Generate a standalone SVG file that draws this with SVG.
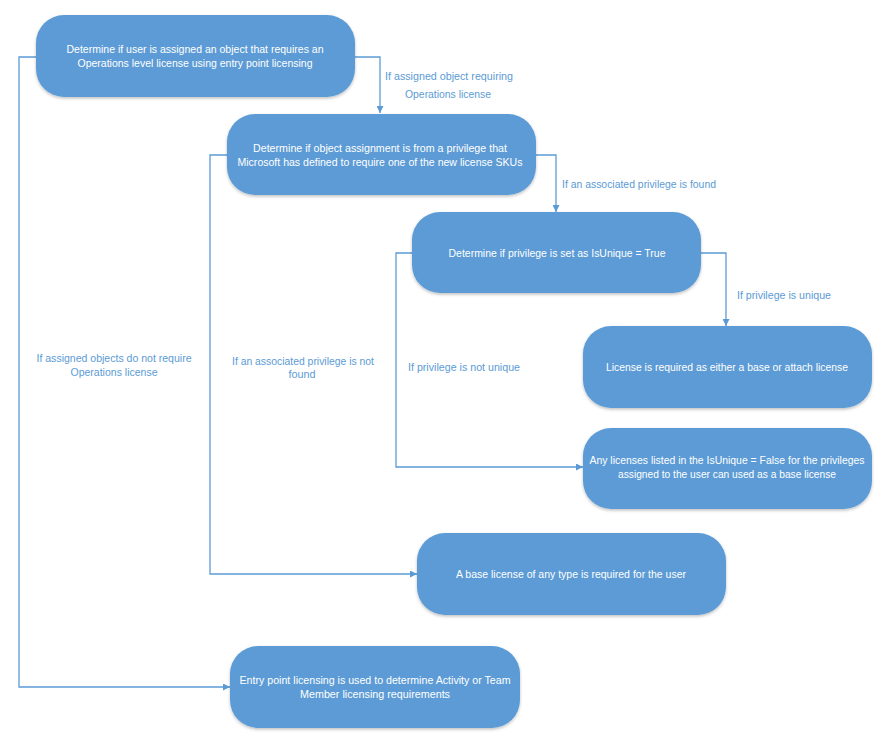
<svg xmlns="http://www.w3.org/2000/svg" width="892" height="740" viewBox="0 0 892 740">
<style>
.node rect{fill:#5b9bd5;filter:url(#sh)}
.node text{fill:#ffffff;font-family:"Liberation Sans",Arial,sans-serif;font-size:10.5px;text-anchor:middle}
.lbl{fill:#5b9bd5;font-family:"Liberation Sans",Arial,sans-serif;font-size:10.5px;text-anchor:middle}
.conn path{fill:none;stroke:#5b9bd5;stroke-width:1.3;marker-end:url(#ah)}
</style>
<defs>
<marker id="ah" viewBox="0 0 10 10" refX="10" refY="5" markerWidth="7" markerHeight="7" markerUnits="userSpaceOnUse" orient="auto">
<path d="M0,0 L10,5 L0,10 z" fill="#5b9bd5"/>
</marker>
<filter id="sh" x="-10%" y="-10%" width="120%" height="130%">
<feDropShadow dx="0" dy="1.5" stdDeviation="1.5" flood-color="#000" flood-opacity="0.25"/>
</filter>
</defs>
<rect width="892" height="740" fill="#ffffff"/>
<g class="conn">
<path d="M36,57 H19 V687 H230"/>
<path d="M355,57 H380 V113"/>
<path d="M227,155 H210 V574 H417"/>
<path d="M536,155 H556 V212"/>
<path d="M412,253 H396 V467 H583"/>
<path d="M701,253 H726 V326"/>
</g>
<g id="labels">
<text class="lbl" x="449" y="80" textLength="128" lengthAdjust="spacingAndGlyphs">If assigned object requiring</text>
<text class="lbl" x="448" y="98" textLength="86" lengthAdjust="spacingAndGlyphs">Operations license</text>
<text class="lbl" x="639" y="188" textLength="154" lengthAdjust="spacingAndGlyphs">If an associated privilege is found</text>
<text class="lbl" x="784" y="299" textLength="94" lengthAdjust="spacingAndGlyphs">If privilege is unique</text>
<text class="lbl" x="464" y="371" textLength="112" lengthAdjust="spacingAndGlyphs">If privilege is not unique</text>
<text class="lbl" x="114" y="362" textLength="155" lengthAdjust="spacingAndGlyphs">If assigned objects do not require</text>
<text class="lbl" x="114" y="376" textLength="87" lengthAdjust="spacingAndGlyphs">Operations license</text>
<text class="lbl" x="303" y="365" textLength="142" lengthAdjust="spacingAndGlyphs">If an associated privilege is not</text>
<text class="lbl" x="302" y="378" textLength="27" lengthAdjust="spacingAndGlyphs">found</text>
</g>
<g id="n1" class="node">
<rect x="36" y="15" width="319" height="82" rx="28"/>
<text x="195" y="53" textLength="257" lengthAdjust="spacingAndGlyphs">Determine if user is assigned an object that requires an</text>
<text x="195" y="67" textLength="235" lengthAdjust="spacingAndGlyphs">Operations level license using entry point licensing</text>
</g>
<g id="n2" class="node">
<rect x="227" y="114" width="309" height="81" rx="28"/>
<text x="380" y="152" textLength="254" lengthAdjust="spacingAndGlyphs">Determine if object assignment is from a privilege that</text>
<text x="380" y="166" textLength="285" lengthAdjust="spacingAndGlyphs">Microsoft has defined to require one of the new license SKUs</text>
</g>
<g id="n3" class="node">
<rect x="412" y="212" width="289" height="81" rx="28"/>
<text x="557" y="257" textLength="217" lengthAdjust="spacingAndGlyphs">Determine if privilege is set as IsUnique = True</text>
</g>
<g id="n4" class="node">
<rect x="583" y="326" width="289" height="82" rx="28"/>
<text x="727" y="371" textLength="242" lengthAdjust="spacingAndGlyphs">License is required as either a base or attach license</text>
</g>
<g id="n5" class="node">
<rect x="583" y="428" width="289" height="81" rx="28"/>
<text x="727" y="464" textLength="275" lengthAdjust="spacingAndGlyphs">Any licenses listed in the IsUnique = False for the privileges</text>
<text x="727" y="478" textLength="218" lengthAdjust="spacingAndGlyphs">assigned to the user can used as a base license</text>
</g>
<g id="n6" class="node">
<rect x="417" y="533" width="309" height="82" rx="28"/>
<text x="571" y="578" textLength="230" lengthAdjust="spacingAndGlyphs">A base license of any type is required for the user</text>
</g>
<g id="n7" class="node">
<rect x="230" y="646" width="290" height="82" rx="28"/>
<text x="375" y="684" textLength="271" lengthAdjust="spacingAndGlyphs">Entry point licensing is used to determine Activity or Team</text>
<text x="375" y="698" textLength="150" lengthAdjust="spacingAndGlyphs">Member licensing requirements</text>
</g>
</svg>
